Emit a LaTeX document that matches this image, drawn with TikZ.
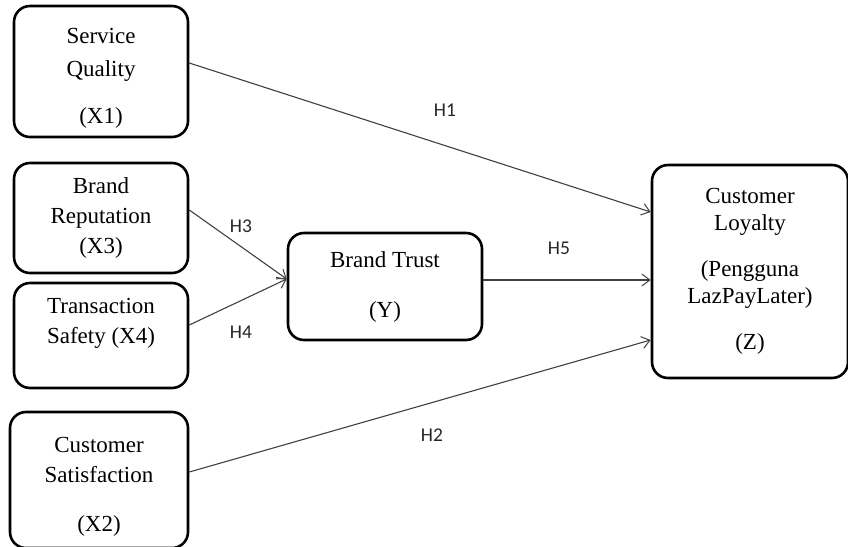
\documentclass[tikz,border=0pt]{standalone}
\usepackage{fontspec}
\setmainfont{Liberation Serif}
\newfontfamily\hfont{Carlito}
\usetikzlibrary{arrows.meta}
\begin{document}
\begin{tikzpicture}[x=1pt,y=-1pt,
  vbox/.style={draw=black,line width=2.6pt,rounded corners=16pt,align=center,
    font=\fontsize{23}{30}\selectfont,inner sep=0pt},
  link/.style={draw=black!75,line width=1.1pt,-{Straight Barb[length=8pt,width=12pt,line width=1pt]}},
  hlab/.style={font=\hfont\fontsize{19.5}{22}\selectfont,text=black!85}]
\useasboundingbox (0,0) rectangle (848,546);
\node[vbox,minimum width=174pt,minimum height=131pt,font=\fontsize{23}{33}\selectfont] (x1) at (101,71.5) {\rule{0pt}{29pt}Service\\Quality\\[14pt](X1)};
\node[vbox,minimum width=174pt,minimum height=110pt] (x3) at (101,218) {Brand\\Reputation\\(X3)};
\node[vbox,minimum width=174pt,minimum height=105pt] (x4) at (101,335.5) {Transaction\\Safety (X4)\\\mbox{}};
\node[vbox,minimum width=178pt,minimum height=136pt] (x2) at (99,480) {\rule{0pt}{28pt}Customer\\Satisfaction\\[19pt](X2)};
\node[vbox,minimum width=194pt,minimum height=107pt] (y) at (385,286.5) {Brand Trust\\[20pt](Y)};
\node[vbox,minimum width=196pt,minimum height=213pt,font=\fontsize{23}{26.5}\selectfont] (z) at (750,271.5) {Customer\\Loyalty\\[20pt](Pengguna\\LazPayLater)\\[20pt](Z)};
\draw[link] ([yshift=8.5pt]x1.east) -- ([yshift=59.5pt]z.west);
\draw[link] ([yshift=8pt]x3.east) -- ([yshift=7.5pt]y.west);
\draw[link] ([yshift=10.5pt]x4.east) -- ([yshift=7.5pt]y.west);
\draw[link] ([yshift=6.5pt]y.east) -- ([yshift=-8.5pt]z.west);
\draw[link] ([yshift=8pt]x2.east) -- ([yshift=-68.5pt]z.west);
\node[hlab] (h1) at (445,110) {H1};
\node[hlab] (h3) at (241,226) {H3};
\node[hlab] (h4) at (241,332) {H4};
\node[hlab] (h5) at (559,248) {H5};
\node[hlab] (h2) at (432,435) {H2};
\end{tikzpicture}
\end{document}
